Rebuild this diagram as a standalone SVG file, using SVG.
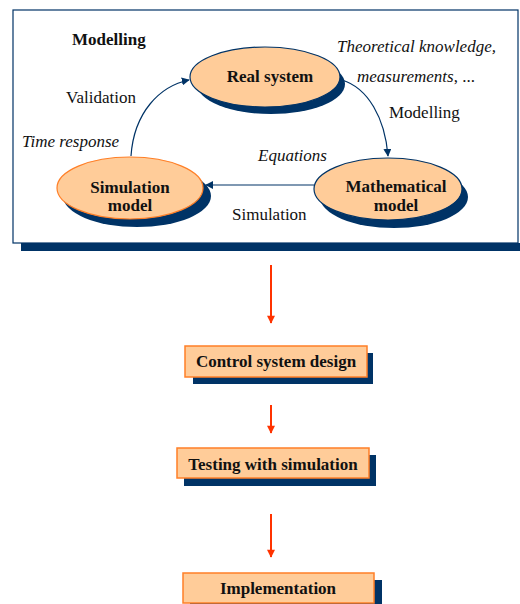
<svg xmlns="http://www.w3.org/2000/svg" width="520" height="604" viewBox="0 0 520 604">
<style>
text{font-size:17px;fill:#111}
.b{font-weight:bold}
.i{font-style:italic}
.c{text-anchor:middle}
.sh{fill:#003366}
.el{fill:#FFCC99;stroke:#003366;stroke-width:1.2}
.elo{fill:#FFCC99;stroke:#FF7F27;stroke-width:1.2}
.bx{fill:#FFCC99;stroke:#FF7F27;stroke-width:1.5}
.conn{fill:none;stroke:#003366;stroke-width:1.2}
.red{fill:none;stroke:#FF3300;stroke-width:2}
</style>
<defs>
<marker id="ab" viewBox="0 0 10 10" refX="9" refY="5" markerWidth="8" markerHeight="8" markerUnits="userSpaceOnUse" orient="auto">
<path d="M0,0 L10,5 L0,10 z" fill="#003366"/>
</marker>
<marker id="ar" viewBox="0 0 10 10" refX="9" refY="5" markerWidth="9" markerHeight="8" markerUnits="userSpaceOnUse" orient="auto">
<path d="M0,0 L10,5 L0,10 z" fill="#FF3300"/>
</marker>
</defs>
<g font-family="Liberation Serif, Times New Roman, serif">
<g id="frame">
<rect class="sh" x="21" y="243" width="499" height="8"/>
<rect x="13" y="10" width="505" height="233" fill="#fff" stroke="#003366" stroke-width="1.2"/>
</g>
<g id="title"><text class="b" x="72" y="45">Modelling</text></g>
<g id="labels">
<text x="66" y="103">Validation</text>
<text class="i" x="22" y="147">Time response</text>
<text class="i" x="337" y="52">Theoretical knowledge,</text>
<text x="357" y="82"><tspan class="i">measurements</tspan>, ...</text>
<text x="389" y="118">Modelling</text>
<text class="i" x="258" y="161">Equations</text>
<text x="232" y="220">Simulation</text>
</g>
<g id="connectors">
<path class="conn" d="M131,156 C134,112 160,86 189,80" marker-end="url(#ab)"/>
<path class="conn" d="M342,80 C368,88 385,118 388,156" marker-end="url(#ab)"/>
<path class="conn" d="M314,185 L206,185" marker-end="url(#ab)"/>
<path class="red" d="M271,265 L271,323" marker-end="url(#ar)"/>
<path class="red" d="M271,405 L271,433" marker-end="url(#ar)"/>
<path class="red" d="M271,514 L271,557" marker-end="url(#ar)"/>
</g>
<g id="real-system">
<ellipse class="sh" cx="271" cy="84" rx="74" ry="30"/>
<ellipse class="el" cx="265" cy="77" rx="75" ry="30"/>
<text class="b c" x="270" y="82">Real system</text>
</g>
<g id="simulation-model">
<ellipse class="sh" cx="137" cy="196" rx="74" ry="31"/>
<ellipse class="elo" cx="130" cy="188" rx="73" ry="31"/>
<text class="b c" x="130" y="193">Simulation</text>
<text class="b c" x="130" y="211">model</text>
</g>
<g id="mathematical-model">
<ellipse class="sh" cx="394" cy="197" rx="74" ry="31"/>
<ellipse class="el" cx="388" cy="189" rx="74" ry="31"/>
<text class="b c" x="396" y="192">Mathematical</text>
<text class="b c" x="396" y="211">model</text>
</g>
<g id="control-system-design">
<rect class="sh" x="193" y="353" width="180" height="31"/>
<rect class="bx" x="185" y="346" width="182" height="31"/>
<text class="b c" x="276" y="367">Control system design</text>
</g>
<g id="testing-with-simulation">
<rect class="sh" x="184" y="455" width="192" height="31"/>
<rect class="bx" x="177" y="448" width="192" height="30"/>
<text class="b c" x="273" y="470">Testing with simulation</text>
</g>
<g id="implementation">
<rect class="sh" x="190" y="580" width="192" height="30"/>
<rect class="bx" x="183" y="573" width="191" height="30"/>
<text class="b c" x="278" y="594">Implementation</text>
</g>
</g>
</svg>
